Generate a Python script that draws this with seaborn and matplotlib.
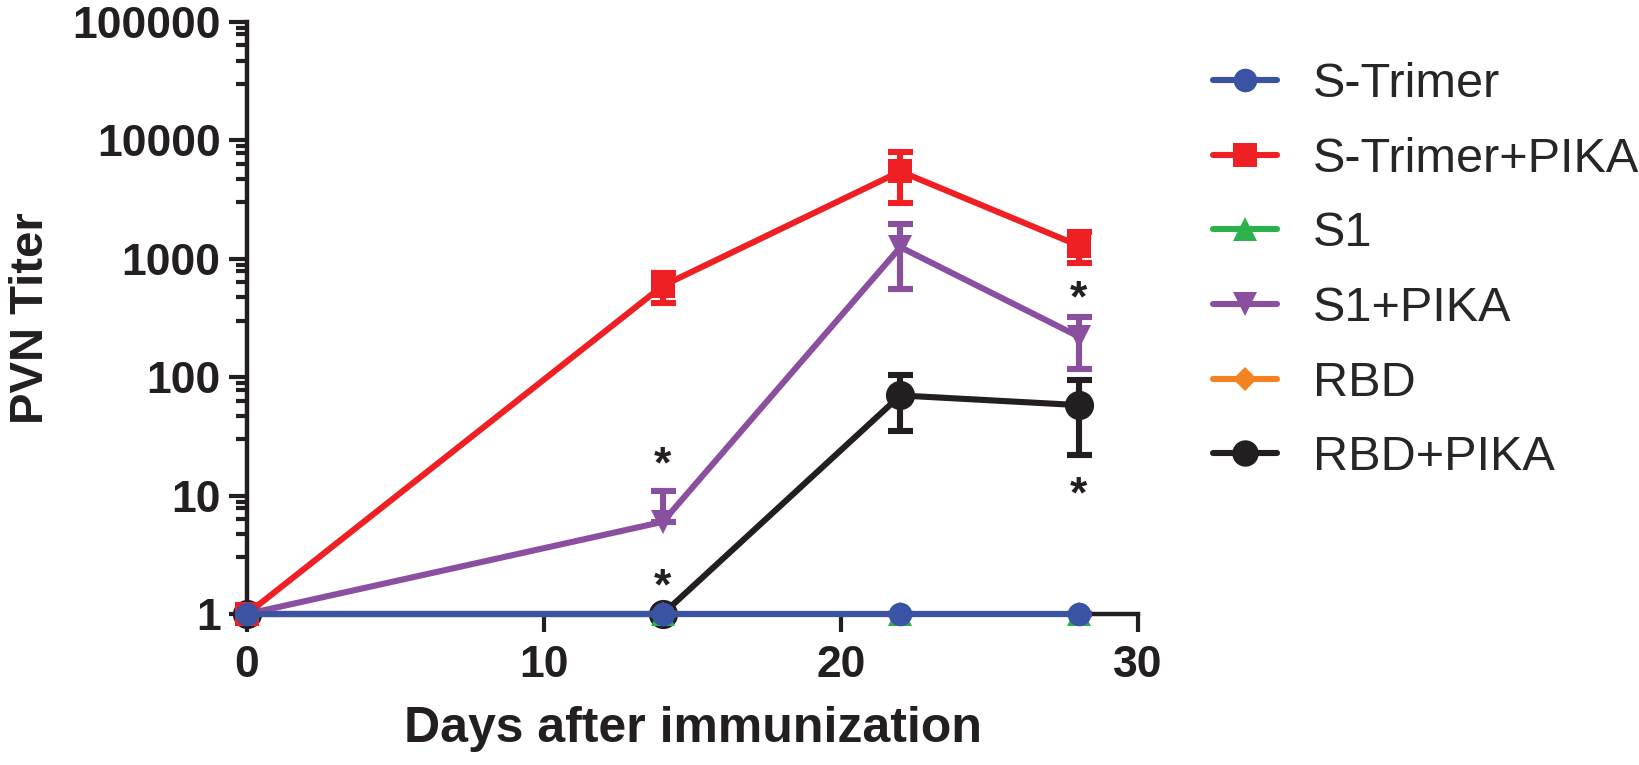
import matplotlib
matplotlib.use("Agg")
import matplotlib.pyplot as plt
import numpy as np
import pandas as pd
import seaborn as sns
from matplotlib.lines import Line2D
from matplotlib.ticker import FixedLocator, FixedFormatter, NullFormatter

# ---------------- data ----------------
days = [0, 14, 22, 28]
series_names = ["S-Trimer", "S-Trimer+PIKA", "S1", "S1+PIKA", "RBD", "RBD+PIKA"]

s_trimer = [1, 1, 1, 1]
s_trimer_pika = [1, 590, 5450, 1290]
s1 = [1, 1, 1, 1]
s1_pika = [1, 6, 1250, 220]
rbd = [1, 1, 1, 1]
rbd_pika = [1, 1, 70, 58]

# error bars (lower, upper)
s_trimer_pika_err_lo = [0, 170, 2500, 380]
s_trimer_pika_err_hi = [0, 170, 2500, 380]
s1_pika_err_lo = [0, 0, 700, 104]
s1_pika_err_hi = [0, 4.9, 700, 104]
rbd_pika_err_lo = [0, 0, 35, 36]
rbd_pika_err_hi = [0, 0, 35, 36]
zero_err = [0, 0, 0, 0]

# significance stars (x, y)
star_x = [14, 14, 28, 28]
star_y = [17.9, 1.66, 450, 10]

y_ticks = [1, 10, 100, 1000, 10000, 100000]
y_tick_labels = ["1", "10", "100", "1000", "10000", "100000"]
x_ticks = [0, 10, 20, 30]
x_tick_labels = ["0", "10", "20", "30"]

values = [s_trimer, s_trimer_pika, s1, s1_pika, rbd, rbd_pika]
err_lo = [zero_err, s_trimer_pika_err_lo, zero_err, s1_pika_err_lo, zero_err, rbd_pika_err_lo]
err_hi = [zero_err, s_trimer_pika_err_hi, zero_err, s1_pika_err_hi, zero_err, rbd_pika_err_hi]

# ---------------- style ----------------
colors = ["#3A53A4", "#EE2024", "#2BB24C", "#8B4FA0", "#F58220", "#231F20"]
markers = ["o", "s", "^", "v", "D", "o"]
msizes = [17, 17, 17, 17, 12, 21]

sns.set_theme(style="ticks")
plt.rcParams["font.family"] = ["Liberation Sans", "DejaVu Sans"]

fig = plt.figure(figsize=(16.39, 7.65), dpi=100)
ax = fig.add_axes([247 / 1639, 1 - 614 / 765, (1138 - 247) / 1639, (614 - 21.7) / 765])

LW = 4.4
df = pd.DataFrame({
    "day": np.tile(days, len(series_names)),
    "titer": np.concatenate(values),
    "group": np.repeat(series_names, len(days)),
})

# draw in reverse order so S-Trimer ends on top (as in the reference)
for i in reversed(range(len(series_names))):
    name = series_names[i]
    sub = df[df["group"] == name]
    z = 10 + (len(series_names) - i) * 3
    ax.errorbar(days, values[i], yerr=[err_lo[i], err_hi[i]], fmt="none",
                ecolor=colors[i], elinewidth=LW, capsize=9, capthick=LW,
                zorder=z, clip_on=False)
    sns.lineplot(data=sub, x="day", y="titer", ax=ax, color=colors[i],
                 linewidth=LW, marker=markers[i], markersize=msizes[i],
                 markeredgewidth=0, markerfacecolor=colors[i],
                 estimator=None, errorbar=None, legend=False,
                 zorder=z + 1, clip_on=False)

for sx, sy in zip(star_x, star_y):
    ax.text(sx, sy, "*", ha="center", va="center", fontsize=32,
            fontweight="bold", color="#231F20", zorder=40)

ax.set_yscale("log")
ax.set_xlim(0, 30)
ax.set_ylim(1, 100000)
ax.yaxis.set_major_locator(FixedLocator(y_ticks))
ax.yaxis.set_major_formatter(FixedFormatter(y_tick_labels))
minor = [d * s for d in y_ticks[:-1] for s in (3, 4.7, 6.3, 7.8, 8.9)]
ax.yaxis.set_minor_locator(FixedLocator(minor))
ax.yaxis.set_minor_formatter(NullFormatter())
ax.xaxis.set_major_locator(FixedLocator(x_ticks))
ax.xaxis.set_major_formatter(FixedFormatter(x_tick_labels))
ax.xaxis.set_minor_locator(FixedLocator([]))

sns.despine(ax=ax)
for sp in ["left", "bottom"]:
    ax.spines[sp].set_linewidth(3.2)
    ax.spines[sp].set_color("#231F20")
ax.tick_params(axis="both", which="major", direction="out", length=13, width=3,
               color="#231F20", labelsize=32, labelcolor="#231F20")
ax.tick_params(axis="y", which="minor", direction="out", length=8, width=3,
               color="#231F20")
ax.tick_params(axis="y", which="major", pad=6)
ax.tick_params(axis="x", which="major", pad=9)
for lab in ax.get_xticklabels() + ax.get_yticklabels():
    lab.set_fontweight("bold")

ax.set_xlabel("Days after immunization", fontsize=36, fontweight="bold",
              color="#231F20", labelpad=15)
ax.set_ylabel("PVN Titer", fontsize=34, fontweight="bold", color="#231F20",
              labelpad=14)
ax.patch.set_alpha(0)

handles = [Line2D([0], [0], color=colors[i], lw=LW, marker=markers[i],
                  markersize=msizes[i] if i != 5 else 19, markeredgewidth=0)
           for i in range(len(series_names))]
fig.legend(handles, series_names, loc="upper left",
           bbox_to_anchor=(1213 / 1639, 1 - 62 / 765), frameon=False,
           fontsize=35, handlelength=1.32, handletextpad=0.74,
           labelspacing=0.61, borderpad=0, borderaxespad=0)

fig.savefig("out.png", dpi=100)
